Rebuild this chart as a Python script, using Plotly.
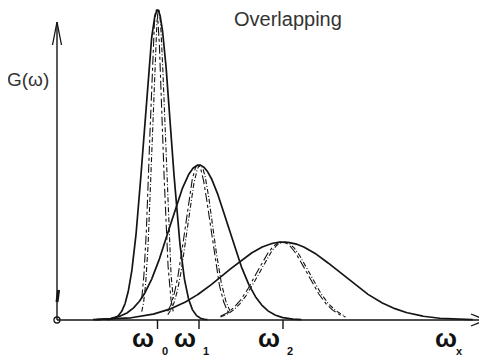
import numpy as np
import plotly.graph_objects as go

# ---- data (x: frequency units, y: G(omega) units) ----
peak_names = ["ω0", "ω1", "ω2"]
peak_centers = [100.5, 142.0, 226.0]      # positions of omega_0, omega_1, omega_2
peak_heights = [310.0, 155.0, 78.0]       # peak heights of G(omega)
outer_widths = [13.4, 29.0, 57.0]         # sigma of the solid (broad) curves
inner_widths = [6.3, 12.5, 25.0]          # sigma of the narrow dashed curves
inner_shift = [-1.2, 1.2]                 # small offsets of the two narrow curves
tick_labels = ["0", "1", "2"]
x_axis_end = 429.0
y_axis_end = 298.0

LINE = "#141414"

def gauss(x, c, h, s):
    return h * np.exp(-((x - c) ** 2) / (2 * s ** 2))

fig = go.Figure()

x = np.linspace(0, 420, 1400)

# solid broad curves
for c, h, s in zip(peak_centers, peak_heights, outer_widths):
    m = gauss(x, c, h, s) > 0.3
    fig.add_trace(go.Scatter(x=x[m], y=gauss(x[m], c, h, s), mode="lines",
                             line=dict(color=LINE, width=1.7), hoverinfo="skip"))

# narrow dashed / dash-dot curves
for c, h, s in zip(peak_centers, peak_heights, inner_widths):
    for d, dash in zip(inner_shift, ["dashdot", "5px,2px,1px,2px"]):
        xs = np.linspace(c - 2.5 * s, c + 2.5 * s, 400)
        fig.add_trace(go.Scatter(x=xs, y=gauss(xs, c + d, h, s), mode="lines",
                                 line=dict(color=LINE, width=1.1, dash=dash),
                                 hoverinfo="skip"))

# axes
fig.add_trace(go.Scatter(x=[0, x_axis_end], y=[0, 0], mode="lines",
                         line=dict(color=LINE, width=1.4), hoverinfo="skip"))
fig.add_trace(go.Scatter(x=[0, 0], y=[0, y_axis_end], mode="lines",
                         line=dict(color=LINE, width=1.4), hoverinfo="skip"))
# arrow heads (open V)
fig.add_trace(go.Scatter(x=[-4.5, 0, 4.5], y=[y_axis_end - 23, y_axis_end, y_axis_end - 23],
                         mode="lines", line=dict(color=LINE, width=1.3), hoverinfo="skip"))
fig.add_trace(go.Scatter(x=[x_axis_end - 15, x_axis_end, x_axis_end - 15], y=[6, 0, -6],
                         mode="lines", line=dict(color=LINE, width=1.3), hoverinfo="skip"))
# small break mark on y axis
fig.add_trace(go.Scatter(x=[0, 1.6], y=[18, 30], mode="lines",
                         line=dict(color=LINE, width=3), hoverinfo="skip"))
# origin circle
fig.add_trace(go.Scatter(x=[0], y=[0], mode="markers",
                         marker=dict(symbol="circle-open", size=6, color=LINE,
                                     line=dict(width=1.3, color=LINE)),
                         hoverinfo="skip"))
# ticks
for c in peak_centers:
    fig.add_trace(go.Scatter(x=[c, c], y=[0, -9], mode="lines",
                             line=dict(color=LINE, width=1.4), hoverinfo="skip"))

OMEGA_FONT = dict(family="Liberation Sans", size=26, color="#111", weight="bold")
SUB_FONT = dict(family="Liberation Sans", size=11, color="#111", weight="bold")

ann = []
for c, t in zip(peak_centers, tick_labels):
    ann.append(dict(x=c - 1.5, y=-18, xref="x", yref="y", text="ω", showarrow=False,
                    xanchor="right", yanchor="middle", font=OMEGA_FONT))
    ann.append(dict(x=c + 2, y=-31, xref="x", yref="y", text=t, showarrow=False,
                    xanchor="left", yanchor="middle", font=SUB_FONT))
ann.append(dict(x=376, y=-18, xref="x", yref="y", text="ω", showarrow=False,
                xanchor="left", yanchor="middle", font=OMEGA_FONT))
ann.append(dict(x=397, y=-31, xref="x", yref="y", text="x", showarrow=False,
                xanchor="left", yanchor="middle", font=SUB_FONT))
ann.append(dict(x=-29.5, y=241, xref="x", yref="y", text="G(ω)", showarrow=False,
                xanchor="center", yanchor="middle",
                font=dict(family="Liberation Sans", size=19, color="#333")))
ann.append(dict(x=230.5, y=301, xref="x", yref="y", text="Overlapping", showarrow=False,
                xanchor="center", yanchor="middle",
                font=dict(family="Liberation Sans", size=20, color="#333")))

# the page places the figure 8 px in from the top-left corner; ranges compensate
fig.update_layout(
    width=487, height=357,
    margin=dict(l=0, r=0, t=0, b=0),
    paper_bgcolor="white", plot_bgcolor="white",
    showlegend=False,
    xaxis=dict(range=[-49, 438], visible=False, fixedrange=True),
    yaxis=dict(range=[-45, 312], visible=False, fixedrange=True),
    annotations=ann,
)

fig.write_html("out.html")
